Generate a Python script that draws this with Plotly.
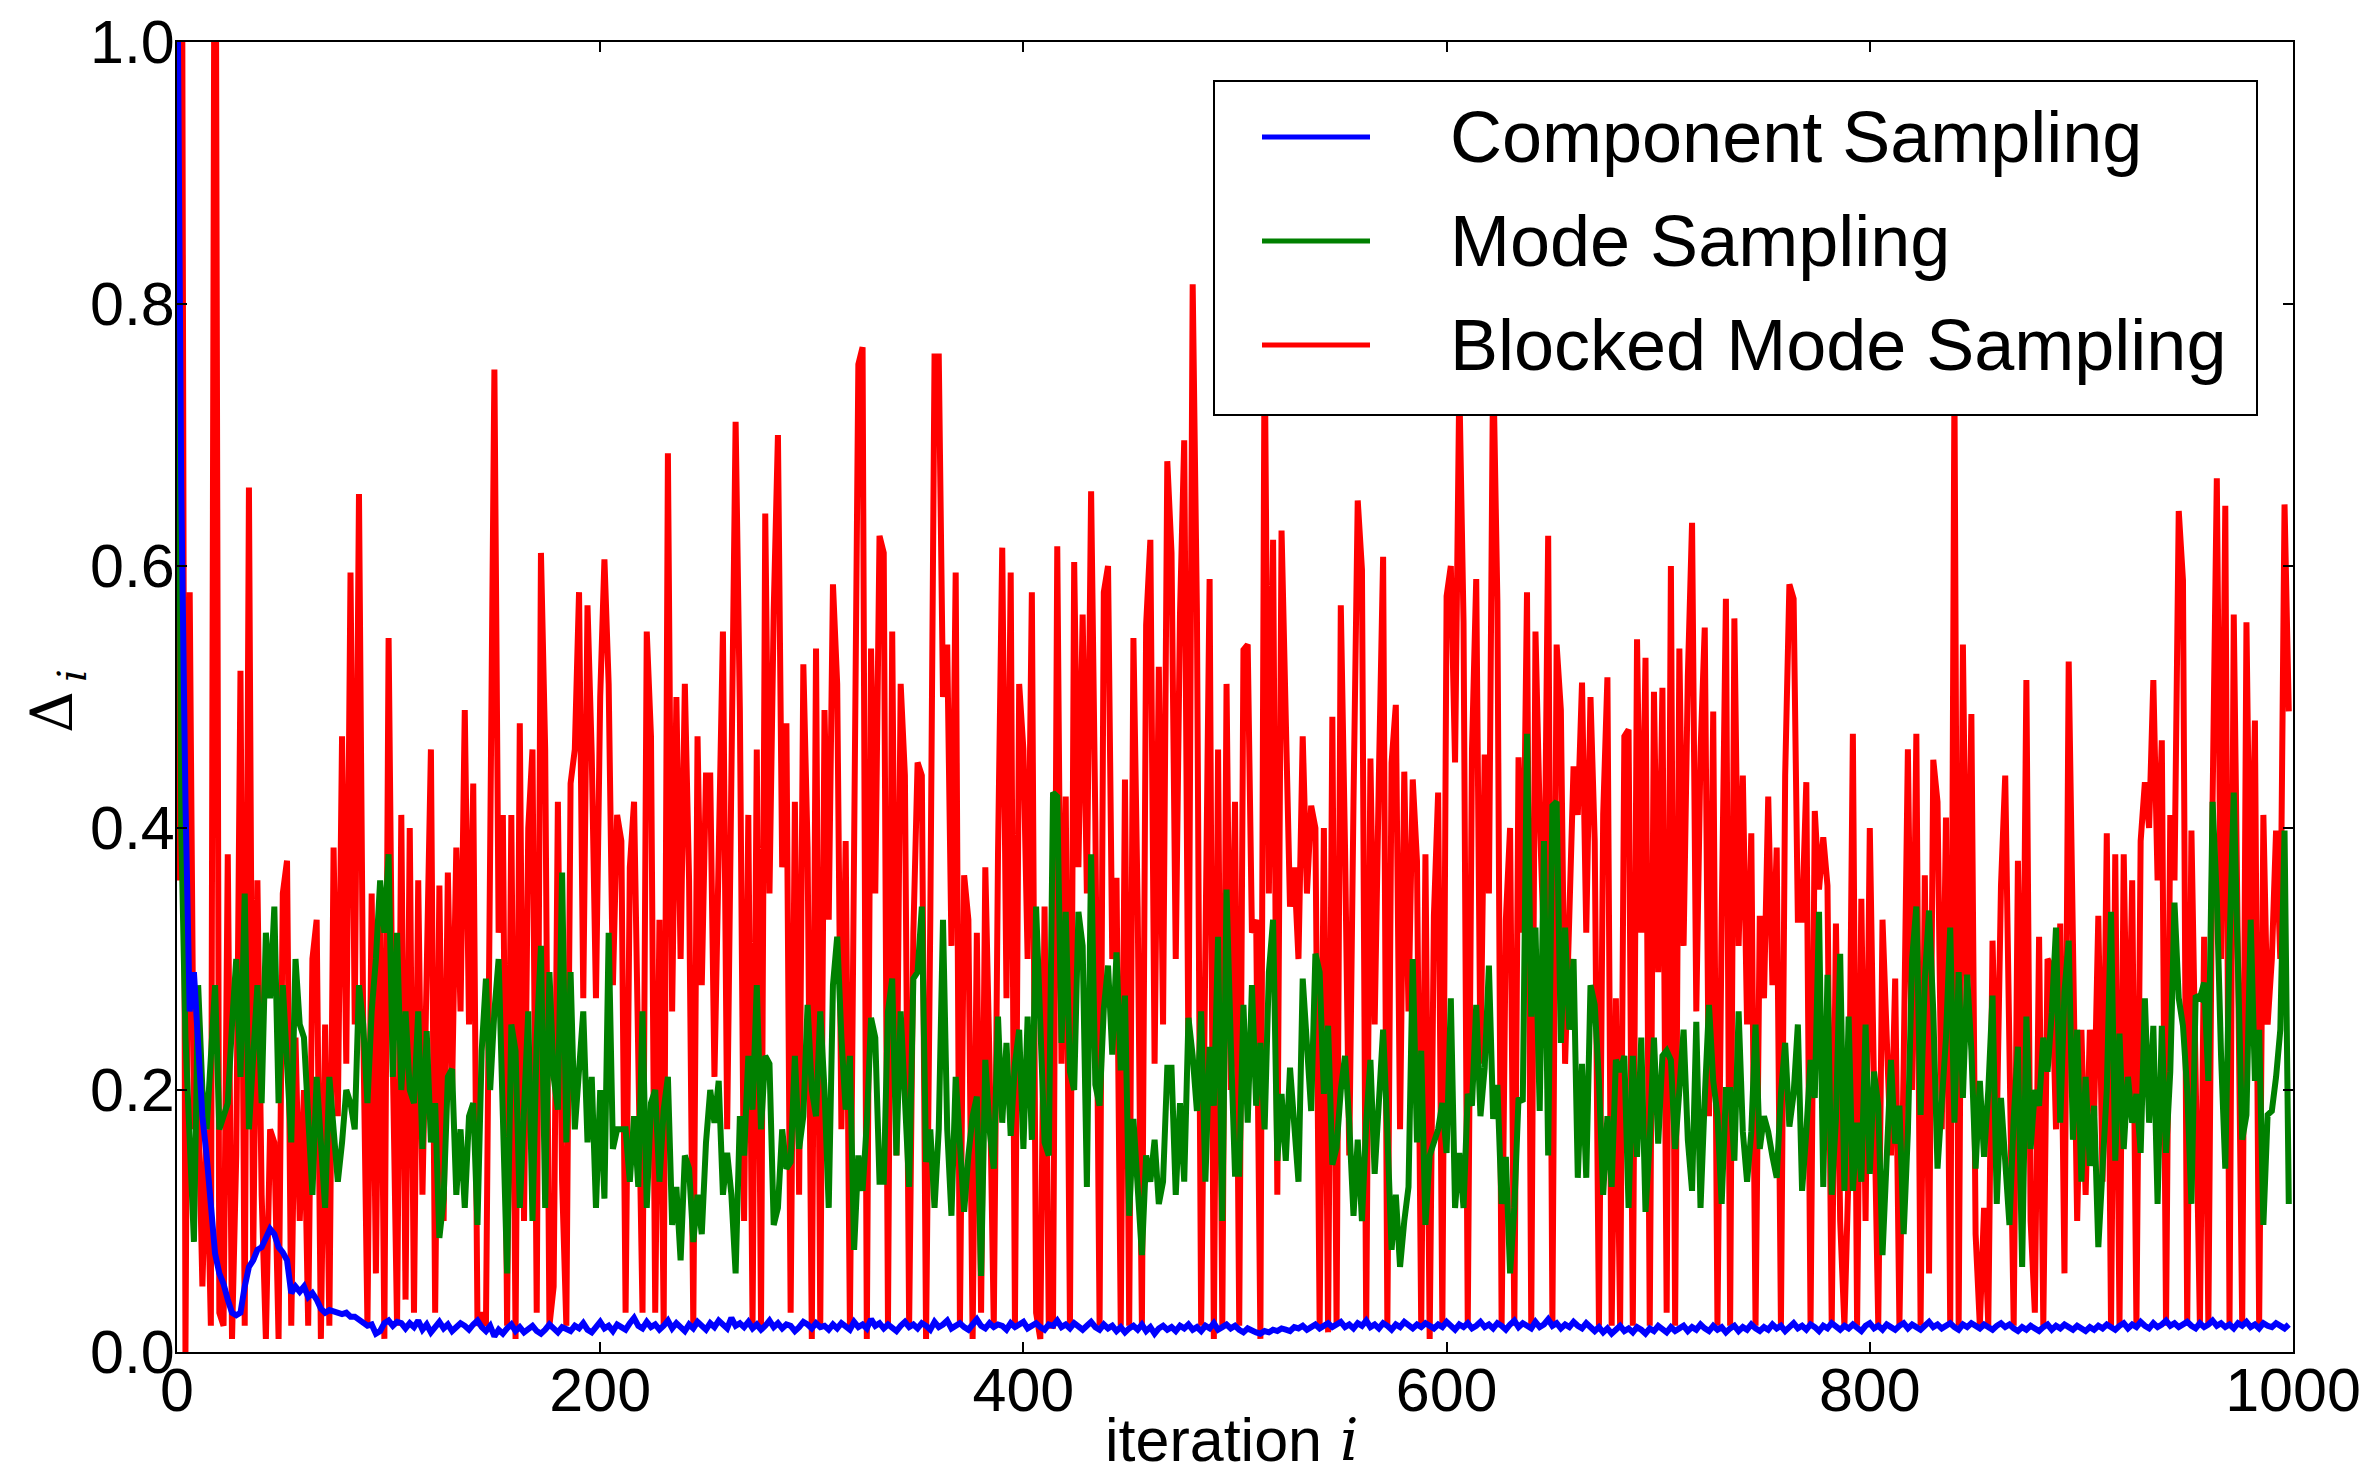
import plotly.graph_objects as go

# Iteration index shared by all three samplers (every second iteration).
iterations = list(range(0, 1000, 2))

# Delta_i for the component sampler.
component_sampling = [
    1.1, 0.66, 0.42, 0.26, 0.29, 0.23, 0.18, 0.15, 0.11, 0.075,
    0.06, 0.052, 0.04, 0.03, 0.028, 0.03, 0.05, 0.065, 0.07, 0.078,
    0.08, 0.088, 0.094, 0.09, 0.08, 0.076, 0.07, 0.045, 0.05, 0.046,
    0.05, 0.042, 0.045, 0.04, 0.033, 0.03, 0.032, 0.031, 0.03, 0.029,
    0.03, 0.027, 0.027, 0.025, 0.023, 0.02, 0.021, 0.014, 0.016, 0.022,
    0.024, 0.02, 0.023, 0.022, 0.018,
    0.022, 0.019, 0.024, 0.017, 0.021, 0.015, 0.02, 0.023, 0.018, 0.021, 0.016, 0.019, 0.022, 0.02, 0.017, 0.021, 0.024, 0.019, 0.016, 0.02,
    0.012, 0.017, 0.014, 0.018, 0.021, 0.016, 0.019, 0.015, 0.018, 0.02, 0.016, 0.014, 0.017, 0.021, 0.018, 0.015, 0.019, 0.017, 0.016, 0.02,
    0.018, 0.022, 0.017, 0.015, 0.019, 0.023, 0.018, 0.02, 0.016, 0.021, 0.019, 0.017, 0.022, 0.026, 0.02, 0.018, 0.023, 0.019, 0.021, 0.017,
    0.02, 0.024, 0.018, 0.022, 0.019, 0.016, 0.021, 0.018, 0.023, 0.02, 0.017, 0.022, 0.019, 0.024, 0.021, 0.018, 0.026, 0.02, 0.022, 0.019,
    0.023, 0.018, 0.021, 0.017, 0.02, 0.024, 0.019, 0.022, 0.018, 0.021, 0.02, 0.016, 0.019, 0.023, 0.021, 0.018, 0.022, 0.019, 0.02, 0.017,
    0.021, 0.018, 0.022, 0.02, 0.017, 0.023, 0.019, 0.021, 0.018, 0.025, 0.02, 0.022, 0.018, 0.021, 0.019, 0.016, 0.02, 0.023, 0.019, 0.021,
    0.018, 0.022, 0.02, 0.017, 0.023, 0.019, 0.021, 0.024, 0.018, 0.02, 0.022, 0.019, 0.017, 0.021, 0.025, 0.02, 0.018, 0.022, 0.019, 0.021,
    0.02, 0.017, 0.022, 0.019, 0.021, 0.023, 0.018, 0.02, 0.022, 0.019, 0.017, 0.021, 0.02, 0.024, 0.019, 0.021, 0.018, 0.022, 0.02, 0.017,
    0.02, 0.023, 0.019, 0.017, 0.021, 0.018, 0.02, 0.016, 0.019, 0.015, 0.018, 0.02, 0.017, 0.021, 0.016, 0.019, 0.014, 0.018, 0.02, 0.017,
    0.019, 0.016, 0.02, 0.018, 0.021, 0.017, 0.019, 0.016, 0.02, 0.018, 0.022, 0.017, 0.019, 0.021, 0.018, 0.02, 0.017, 0.015, 0.018, 0.016,
    0.015, 0.014, 0.016, 0.015, 0.017, 0.016, 0.018, 0.017, 0.016, 0.019, 0.018, 0.02, 0.017, 0.019, 0.021, 0.018, 0.02, 0.022, 0.019, 0.021,
    0.023, 0.019, 0.021, 0.018, 0.022, 0.02, 0.024, 0.019, 0.021, 0.018, 0.022, 0.02, 0.017, 0.021, 0.019, 0.023, 0.02, 0.018, 0.021, 0.019,
    0.022, 0.02, 0.018, 0.021, 0.019, 0.023, 0.02, 0.017, 0.021, 0.019, 0.022, 0.018, 0.02, 0.023, 0.019, 0.021, 0.018, 0.022, 0.02, 0.017,
    0.021, 0.024, 0.019, 0.022, 0.02, 0.018, 0.023, 0.019, 0.021, 0.025, 0.02, 0.022, 0.018, 0.021, 0.019, 0.023, 0.02, 0.018, 0.022, 0.019,
    0.016, 0.019, 0.015, 0.018, 0.014, 0.017, 0.02, 0.016, 0.018, 0.015, 0.019, 0.017, 0.014, 0.018, 0.016, 0.02, 0.017, 0.015, 0.019, 0.016,
    0.018, 0.02, 0.016, 0.019, 0.017, 0.021, 0.018, 0.016, 0.02, 0.017, 0.019, 0.015, 0.018, 0.02, 0.016, 0.019, 0.017, 0.021, 0.018, 0.016,
    0.019, 0.017, 0.021, 0.018, 0.02, 0.016, 0.019, 0.022, 0.018, 0.02, 0.017, 0.021, 0.019, 0.016, 0.02, 0.018, 0.022, 0.019, 0.017, 0.02,
    0.018, 0.021, 0.019, 0.016, 0.02, 0.022, 0.018, 0.02, 0.017, 0.021, 0.019, 0.017, 0.02, 0.022, 0.018, 0.021, 0.019, 0.017, 0.02, 0.023,
    0.019, 0.021, 0.018, 0.02, 0.022, 0.019, 0.017, 0.021, 0.019, 0.022, 0.02, 0.018, 0.021, 0.019, 0.017, 0.02, 0.022, 0.019, 0.021, 0.018,
    0.016, 0.019, 0.017, 0.02, 0.018, 0.016, 0.019, 0.021, 0.017, 0.02, 0.018, 0.021, 0.019, 0.017, 0.02, 0.018, 0.016, 0.019, 0.017, 0.02,
    0.018, 0.021, 0.019, 0.017, 0.02, 0.022, 0.018, 0.021, 0.019, 0.023, 0.02, 0.018, 0.022, 0.019, 0.021, 0.024, 0.02, 0.022, 0.019, 0.021,
    0.023, 0.02, 0.018, 0.022, 0.019, 0.021, 0.024, 0.02, 0.022, 0.019, 0.021, 0.018, 0.022, 0.02, 0.023, 0.019, 0.021, 0.018, 0.022, 0.02,
    0.019, 0.022, 0.02, 0.018, 0.021,
]

# Delta_i for the mode sampler.
mode_sampling = [
    1.0, 0.40, 0.24, 0.15, 0.084, 0.28, 0.20, 0.17, 0.23, 0.28,
    0.17, 0.18, 0.19, 0.25, 0.30, 0.21, 0.35, 0.17, 0.22, 0.28,
    0.19, 0.32, 0.27, 0.34, 0.19, 0.28, 0.22, 0.16, 0.30, 0.25,
    0.24, 0.17, 0.12, 0.21, 0.15, 0.11, 0.21, 0.17, 0.13, 0.16,
    0.20, 0.19, 0.17, 0.28, 0.25, 0.19, 0.26, 0.30, 0.36, 0.32,
    0.38, 0.21, 0.32, 0.20, 0.26, 0.20, 0.19, 0.26, 0.155, 0.245,
    0.16, 0.19, 0.087, 0.117, 0.21, 0.216, 0.12, 0.17, 0.11, 0.18,
    0.19, 0.097, 0.23, 0.285, 0.2, 0.26, 0.30, 0.18, 0.06, 0.25,
    0.23, 0.11, 0.18, 0.26, 0.10, 0.24, 0.31, 0.11, 0.29, 0.21,
    0.185, 0.366, 0.16, 0.29, 0.17, 0.22, 0.26, 0.16, 0.21, 0.11,
    0.2, 0.117, 0.32, 0.155, 0.17, 0.17, 0.17, 0.13, 0.18, 0.126,
    0.26, 0.11, 0.19, 0.2, 0.13, 0.185, 0.21, 0.097, 0.126, 0.07,
    0.15, 0.14, 0.084, 0.12, 0.09, 0.16, 0.2, 0.175, 0.207, 0.12,
    0.152, 0.12, 0.06, 0.18, 0.15, 0.226, 0.185, 0.28, 0.17, 0.226,
    0.22, 0.097, 0.11, 0.17, 0.14, 0.145, 0.226, 0.155, 0.18, 0.265,
    0.2, 0.18, 0.26, 0.2, 0.11, 0.28, 0.317, 0.24, 0.185, 0.226,
    0.078, 0.15, 0.123, 0.175, 0.255, 0.24, 0.13, 0.13, 0.26, 0.285,
    0.15, 0.26, 0.195, 0.126, 0.285, 0.29, 0.34, 0.145, 0.17, 0.11,
    0.17, 0.33, 0.17, 0.104, 0.21, 0.15, 0.107, 0.15, 0.18, 0.195,
    0.058, 0.223, 0.17, 0.14, 0.256, 0.175, 0.236, 0.165, 0.22, 0.246,
    0.155, 0.256, 0.162, 0.34, 0.233, 0.16, 0.15, 0.427, 0.424, 0.236,
    0.336, 0.214, 0.2, 0.336, 0.31, 0.126, 0.38, 0.204, 0.188, 0.262,
    0.295, 0.227, 0.305, 0.215, 0.272, 0.104, 0.178, 0.13, 0.074, 0.15,
    0.13, 0.162, 0.113, 0.13, 0.217, 0.217, 0.12, 0.19, 0.13, 0.255,
    0.226, 0.184, 0.26, 0.13, 0.233, 0.188, 0.317, 0.10, 0.353, 0.236,
    0.136, 0.136, 0.265, 0.175, 0.28, 0.188, 0.236, 0.17, 0.29, 0.33,
    0.146, 0.197, 0.146, 0.217, 0.168, 0.13, 0.285, 0.233, 0.184, 0.304,
    0.29, 0.197, 0.249, 0.143, 0.156, 0.2, 0.226, 0.175, 0.104, 0.162,
    0.10, 0.175, 0.223, 0.136, 0.2, 0.246, 0.168, 0.078, 0.12, 0.065,
    0.1, 0.126, 0.30, 0.16, 0.23, 0.097, 0.15, 0.162, 0.17, 0.19,
    0.152, 0.27, 0.11, 0.152, 0.11, 0.197, 0.188, 0.265, 0.18, 0.217,
    0.295, 0.178, 0.204, 0.113, 0.149, 0.06, 0.11, 0.194, 0.191, 0.472,
    0.256, 0.324, 0.184, 0.39, 0.15, 0.417, 0.42, 0.236, 0.324, 0.246,
    0.30, 0.133, 0.22, 0.133, 0.28, 0.265, 0.207, 0.12, 0.18, 0.126,
    0.223, 0.214, 0.226, 0.11, 0.226, 0.149, 0.24, 0.107, 0.162, 0.24,
    0.159, 0.226, 0.23, 0.223, 0.155, 0.2, 0.246, 0.162, 0.123, 0.252,
    0.11, 0.194, 0.265, 0.207, 0.181, 0.113, 0.2, 0.2, 0.146, 0.26,
    0.168, 0.13, 0.168, 0.25, 0.155, 0.18, 0.168, 0.149, 0.133, 0.197,
    0.236, 0.172, 0.197, 0.25, 0.123, 0.168, 0.223, 0.194, 0.336, 0.126,
    0.288, 0.12, 0.178, 0.304, 0.123, 0.256, 0.123, 0.175, 0.13, 0.25,
    0.136, 0.214, 0.188, 0.074, 0.155, 0.223, 0.159, 0.188, 0.09, 0.168,
    0.30, 0.34, 0.181, 0.285, 0.337, 0.26, 0.14, 0.188, 0.24, 0.324,
    0.175, 0.29, 0.194, 0.288, 0.23, 0.14, 0.207, 0.149, 0.2, 0.272,
    0.113, 0.194, 0.152, 0.097, 0.178, 0.233, 0.065, 0.256, 0.155, 0.2,
    0.188, 0.24, 0.214, 0.259, 0.324, 0.175, 0.275, 0.314, 0.162, 0.246,
    0.13, 0.21, 0.142, 0.188, 0.08, 0.136, 0.2, 0.336, 0.146, 0.243,
    0.155, 0.21, 0.175, 0.197, 0.152, 0.27, 0.175, 0.249, 0.113, 0.249,
    0.152, 0.214, 0.343, 0.27, 0.249, 0.2, 0.113, 0.272, 0.27, 0.282,
    0.207, 0.42, 0.346, 0.226, 0.14, 0.31, 0.427, 0.294, 0.162, 0.181,
    0.33, 0.207, 0.246, 0.097, 0.181, 0.184, 0.21, 0.246, 0.398, 0.113,
]

# Delta_i for the blocked mode sampler.
blocked_mode_sampling = [
    0.36, 1.35, 0.0, 0.58, 0.17, 0.2, 0.05, 0.17, 0.02, 1.3,
    0.03, 0.02, 0.38, 0.01, 0.15, 0.52, 0.02, 0.66, 0.07, 0.36,
    0.12, 0.01, 0.17, 0.16, 0.01, 0.35, 0.375, 0.02, 0.24, 0.1,
    0.2, 0.02, 0.3, 0.33, 0.01, 0.25, 0.02, 0.385, 0.18, 0.47,
    0.22, 0.595, 0.25, 0.655, 0.25, 0.02, 0.35, 0.06, 0.355, 0.01,
    0.545, 0.22, 0.02, 0.41, 0.04, 0.40, 0.03, 0.36, 0.12, 0.31,
    0.46, 0.03, 0.356, 0.10, 0.366, 0.2, 0.385, 0.26, 0.49, 0.25,
    0.434, 0.02, 0.03, 0.02, 0.417, 0.75, 0.32, 0.41, 0.02, 0.41,
    0.01, 0.48, 0.10, 0.40, 0.46, 0.03, 0.61, 0.46, 0.02, 0.05,
    0.42, 0.13, 0.02, 0.434, 0.46, 0.58, 0.27, 0.57, 0.456, 0.27,
    0.50, 0.605, 0.51, 0.28, 0.41, 0.39, 0.03, 0.37, 0.42, 0.25,
    0.03, 0.55, 0.47, 0.03, 0.33, 0.02, 0.686, 0.26, 0.50, 0.30,
    0.51, 0.36, 0.02, 0.47, 0.28, 0.44, 0.44, 0.21, 0.40, 0.55,
    0.17, 0.40, 0.71, 0.49, 0.1, 0.41, 0.02, 0.46, 0.02, 0.64,
    0.35, 0.566, 0.70, 0.37, 0.48, 0.03, 0.42, 0.12, 0.525, 0.385,
    0.01, 0.537, 0.02, 0.49, 0.33, 0.586, 0.51, 0.17, 0.39, 0.02,
    0.38, 0.754, 0.767, 0.01, 0.537, 0.35, 0.623, 0.61, 0.02, 0.55,
    0.15, 0.51, 0.44, 0.02, 0.32, 0.45, 0.44, 0.01, 0.33, 0.76,
    0.76, 0.5, 0.54, 0.31, 0.595, 0.02, 0.364, 0.33, 0.01, 0.32,
    0.03, 0.37, 0.22, 0.02, 0.38, 0.614, 0.27, 0.595, 0.02, 0.51,
    0.46, 0.3, 0.58, 0.03, 0.01, 0.34, 0.02, 0.02, 0.615, 0.22,
    0.424, 0.02, 0.603, 0.37, 0.563, 0.35, 0.657, 0.405, 0.02, 0.58,
    0.60, 0.3, 0.362, 0.02, 0.437, 0.02, 0.545, 0.34, 0.02, 0.555,
    0.62, 0.22, 0.523, 0.25, 0.68, 0.61, 0.3, 0.563, 0.696, 0.22,
    0.815, 0.566, 0.02, 0.3, 0.59, 0.01, 0.46, 0.02, 0.51, 0.2,
    0.42, 0.02, 0.536, 0.54, 0.32, 0.33, 0.01, 0.78, 0.35, 0.62,
    0.12, 0.627, 0.463, 0.34, 0.37, 0.30, 0.47, 0.35, 0.417, 0.40,
    0.02, 0.40, 0.015, 0.485, 0.02, 0.57, 0.385, 0.15, 0.42, 0.65,
    0.597, 0.02, 0.453, 0.25, 0.44, 0.607, 0.02, 0.45, 0.494, 0.17,
    0.443, 0.26, 0.437, 0.375, 0.02, 0.38, 0.01, 0.333, 0.427, 0.02,
    0.577, 0.60, 0.45, 0.74, 0.557, 0.02, 0.46, 0.59, 0.22, 0.456,
    0.35, 0.76, 0.573, 0.02, 0.33, 0.40, 0.02, 0.454, 0.32, 0.58,
    0.02, 0.55, 0.41, 0.31, 0.623, 0.02, 0.54, 0.49, 0.22, 0.35,
    0.447, 0.41, 0.511, 0.32, 0.50, 0.39, 0.02, 0.41, 0.515, 0.02,
    0.27, 0.02, 0.47, 0.475, 0.02, 0.544, 0.32, 0.53, 0.02, 0.504,
    0.29, 0.507, 0.03, 0.6, 0.02, 0.537, 0.31, 0.515, 0.633, 0.26,
    0.458, 0.553, 0.18, 0.489, 0.02, 0.33, 0.575, 0.02, 0.56, 0.31,
    0.44, 0.25, 0.396, 0.02, 0.333, 0.27, 0.424, 0.28, 0.385, 0.02,
    0.44, 0.586, 0.575, 0.33, 0.33, 0.435, 0.02, 0.413, 0.353, 0.393,
    0.356, 0.02, 0.327, 0.1, 0.02, 0.14, 0.472, 0.02, 0.346, 0.1,
    0.4, 0.2, 0.02, 0.33, 0.25, 0.15, 0.285, 0.02, 0.22, 0.46,
    0.2, 0.472, 0.02, 0.364, 0.06, 0.452, 0.42, 0.17, 0.408, 0.02,
    0.74, 0.02, 0.54, 0.27, 0.487, 0.09, 0.02, 0.11, 0.02, 0.314,
    0.17, 0.356, 0.44, 0.23, 0.02, 0.375, 0.16, 0.513, 0.1, 0.03,
    0.317, 0.02, 0.3, 0.294, 0.17, 0.327, 0.06, 0.527, 0.343, 0.1,
    0.246, 0.12, 0.246, 0.18, 0.333, 0.13, 0.396, 0.02, 0.38, 0.02,
    0.38, 0.18, 0.36, 0.02, 0.39, 0.435, 0.4, 0.513, 0.36, 0.467,
    0.02, 0.41, 0.36, 0.642, 0.589, 0.02, 0.398, 0.18, 0.02, 0.317,
    0.02, 0.42, 0.667, 0.3, 0.646, 0.02, 0.563, 0.3, 0.02, 0.557,
    0.3, 0.482, 0.02, 0.41, 0.25, 0.3, 0.398, 0.3, 0.647, 0.489,
]

series_names = ["Component Sampling", "Mode Sampling", "Blocked Mode Sampling"]
series_values = [component_sampling, mode_sampling, blocked_mode_sampling]
series_colors = ["#0000ff", "#008000", "#ff0000"]

x_ticks = [0, 200, 400, 600, 800, 1000]
y_ticks = [0.0, 0.2, 0.4, 0.6, 0.8, 1.0]
y_tick_text = ["0.0", "0.2", "0.4", "0.6", "0.8", "1.0"]

for vals in series_values:
    assert len(vals) == len(iterations)

SANS = "Liberation Sans, Arial, Helvetica, sans-serif"
SERIF = "DejaVu Serif, Liberation Serif, serif"

# Figure and axes box in pixels.
W, H = 2374, 1476
ML, MR, MT, MB = 177, 81, 42, 124
PW, PH = W - ML - MR, H - MT - MB


def px_to_paper(px, py):
    """Convert a pixel position on the page to paper coordinates."""
    return (px - ML) / PW, (H - MB - py) / PH


fig = go.Figure()

# Red first, then green, then blue on top.
for idx in (2, 1, 0):
    fig.add_trace(go.Scatter(
        x=iterations,
        y=series_values[idx],
        mode="lines",
        name=series_names[idx],
        line=dict(color=series_colors[idx], width=6),
        showlegend=False,
    ))

fig.update_layout(
    width=W,
    height=H,
    margin=dict(l=ML, r=MR, t=MT, b=MB, autoexpand=False),
    paper_bgcolor="white",
    plot_bgcolor="white",
    showlegend=False,
    font=dict(family=SANS, size=61, color="black"),
)

axis_common = dict(
    ticks="inside",
    ticklen=10,
    tickwidth=1.5,
    tickcolor="black",
    showline=True,
    linecolor="black",
    linewidth=2,
    mirror="ticks",
    showgrid=False,
    zeroline=False,
    automargin=False,
    tickfont=dict(family=SANS, size=61, color="black"),
)

fig.update_xaxes(
    range=[0, 1000],
    tickvals=x_ticks,
    ticktext=[str(t) for t in x_ticks],
    ticklabelstandoff=-16,
    **axis_common,
)
fig.update_yaxes(
    range=[0, 1.0],
    tickvals=y_ticks,
    ticktext=y_tick_text,
    ticklabelstandoff=-12,
    **axis_common,
)

# Axis titles.
ax, ay = px_to_paper(1213, 1440)
fig.add_annotation(xref="paper", yref="paper", x=ax, y=ay,
                   xanchor="center", yanchor="middle", showarrow=False,
                   text="iteration", font=dict(family=SANS, size=61, color="black"))
ax, ay = px_to_paper(1349, 1440)
fig.add_annotation(xref="paper", yref="paper", x=ax, y=ay,
                   xanchor="center", yanchor="middle", showarrow=False,
                   text="<i>i</i>", font=dict(family=SERIF, size=58, color="black"))

ax, ay = px_to_paper(52, 712)
fig.add_annotation(xref="paper", yref="paper", x=ax, y=ay,
                   xanchor="center", yanchor="middle", showarrow=False, textangle=-90,
                   text="Δ", font=dict(family=SERIF, size=58, color="black"))
ax, ay = px_to_paper(72, 676)
fig.add_annotation(xref="paper", yref="paper", x=ax, y=ay,
                   xanchor="center", yanchor="middle", showarrow=False, textangle=-90,
                   text="<i>i</i>", font=dict(family=SERIF, size=40, color="black"))

# Legend panel, upper right of the axes.
bx0, by0 = px_to_paper(1214, 415)
bx1, by1 = px_to_paper(2257, 81)
fig.add_shape(
    type="rect", xref="paper", yref="paper",
    x0=bx0, x1=bx1, y0=by0, y1=by1,
    line=dict(color="black", width=2), fillcolor="white", layer="above",
)
legend_rows_px = [137, 241, 345]
for name, color, row_py in zip(series_names, series_colors, legend_rows_px):
    lx0, ly = px_to_paper(1262, row_py)
    lx1, _ = px_to_paper(1370, row_py)
    fig.add_shape(
        type="line", xref="paper", yref="paper",
        x0=lx0, x1=lx1, y0=ly, y1=ly,
        line=dict(color=color, width=5), layer="above",
    )
    tx, _ = px_to_paper(1448, row_py)
    fig.add_annotation(
        xref="paper", yref="paper", x=tx, y=ly,
        xanchor="left", yanchor="middle", showarrow=False,
        text=name, font=dict(family=SANS, size=72, color="black"),
    )

fig.write_html("out.html")
